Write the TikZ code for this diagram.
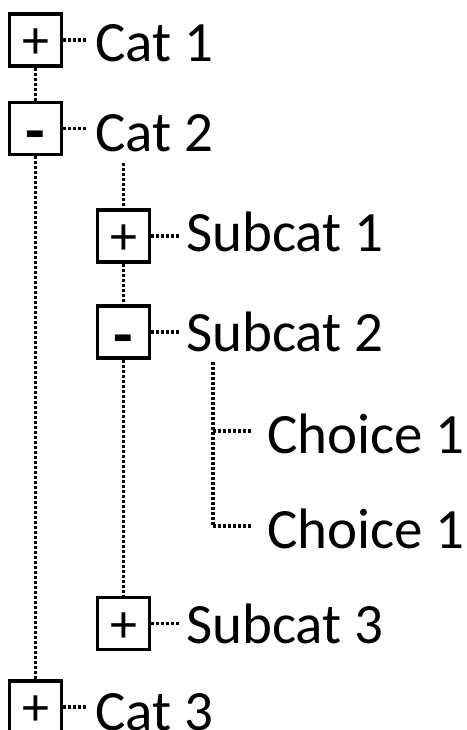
\documentclass[tikz,border=0pt]{standalone}
\usepackage{fontspec}
\setmainfont{Carlito}
\begin{document}
\begin{tikzpicture}[x=1pt,y=-1pt,
  togglebox/.style={draw, line width=3.5pt, minimum size=52pt, inner sep=0pt,
    text height=0pt, text depth=0pt, font=\fontsize{54}{60}\selectfont},
  itemtext/.style={anchor=base west, inner ysep=0pt,
    font=\fontsize{57}{68}\selectfont},
  dots/.style={line width=3.5pt, dash pattern=on 3pt off 2pt}]
\useasboundingbox (0,0) rectangle (466,730);
\clip (0,0) rectangle (466,730);

% glyphs inside the toggle boxes, centred on the box
\newcommand{\plusmark}{\raisebox{-18.5pt}{+}}
\newcommand{\minusmark}{\raisebox{-24pt}{\fontsize{64}{70}\selectfont\bfseries -}}

% top level
\node[togglebox] (b1) at (35.5,40) {\plusmark};
\node[itemtext, inner xsep=8pt] (t1) at (87,62) {Cat 1};
\node[togglebox] (b2) at (35.5,128.5) {\minusmark};
\node[itemtext, inner xsep=8pt] (t2) at (87,152) {Cat 2};
\node[togglebox] (b3) at (35.5,707) {\plusmark};
\node[itemtext, inner xsep=8pt] (t3) at (87,730) {Cat 3};

% second level
\node[togglebox] (s1) at (123.5,236) {\plusmark};
\node[itemtext, inner xsep=5pt] (u1) at (181,251) {Subcat 1};
\node[togglebox] (s2) at (123.5,332) {\minusmark};
\node[itemtext, inner xsep=5pt] (u2) at (181,351) {Subcat 2};
\node[togglebox] (s3) at (123.5,623.5) {\plusmark};
\node[itemtext, inner xsep=5pt] (u3) at (181,643) {Subcat 3};

% third level
\node[itemtext, inner xsep=15pt] (ch1) at (252,453) {Choice 1};
\node[itemtext, inner xsep=15pt] (ch2) at (252,548) {Choice 1};

% junction points of the tree lines
\coordinate (c2) at (123.5,163);
\coordinate (c3) at (213,362);
\coordinate (j1) at (213,431);
\coordinate (j2) at (213,526);

% vertical tree lines
\draw[dots] (b1.south) -- (b2.north);
\draw[dots] (b2.south) -- (b3.north);
\draw[dots] (c2) -- (s1.north);
\draw[dots] (s1.south) -- (s2.north);
\draw[dots] (s2.south) -- (s3.north);
\draw[dots] (c3) -- (j2);

% horizontal connectors to the labels
\draw[dots] (b1.east) -- (b1.east -| t1.west);
\draw[dots] (b2.east) -- (b2.east -| t2.west);
\draw[dots] (b3.east) -- (b3.east -| t3.west);
\draw[dots] (s1.east) -- (s1.east -| u1.west);
\draw[dots] (s2.east) -- (s2.east -| u2.west);
\draw[dots] (s3.east) -- (s3.east -| u3.west);
\draw[dots] (j1) -- (j1 -| ch1.west);
\draw[dots] (j2) -- (j2 -| ch2.west);
\end{tikzpicture}
\end{document}
